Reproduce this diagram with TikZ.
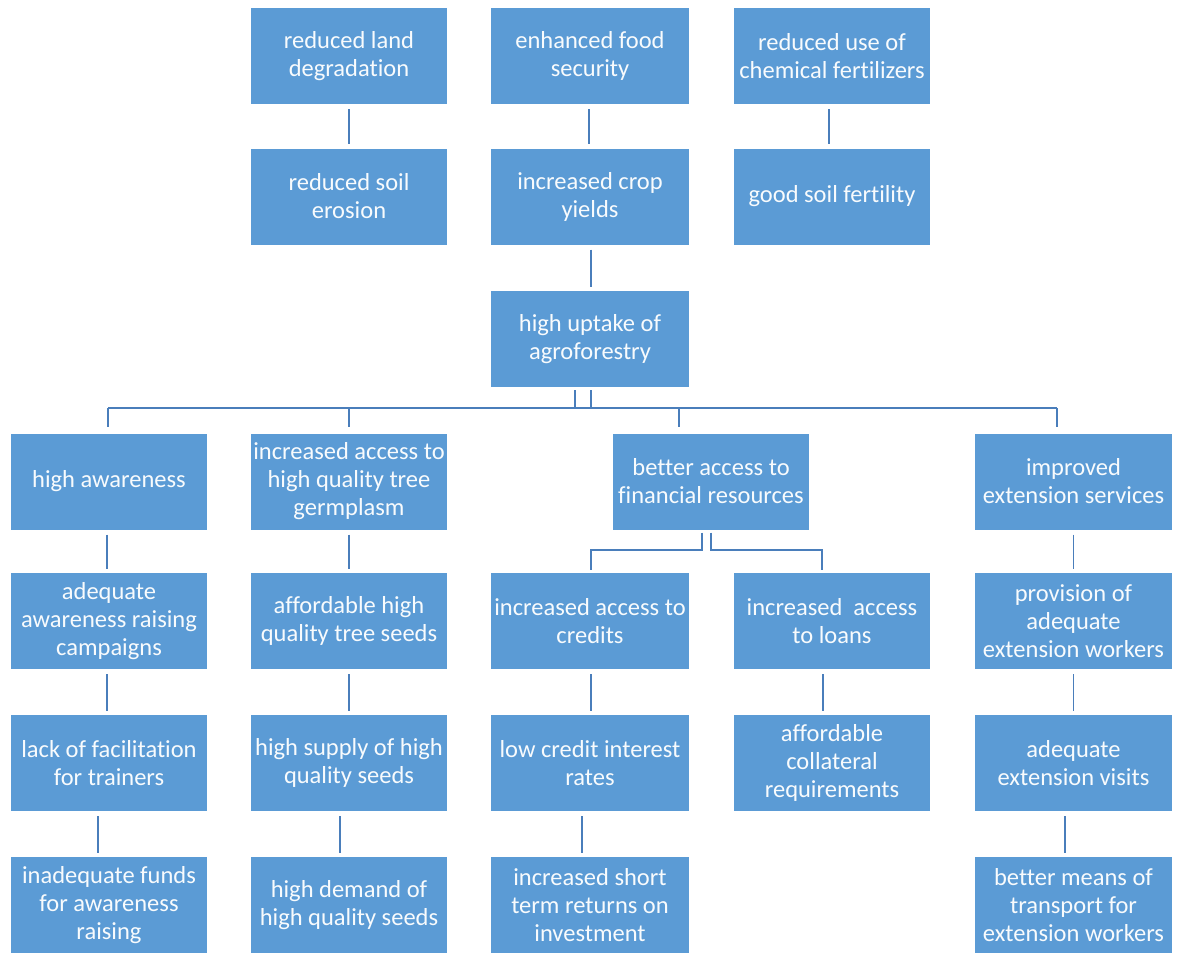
\documentclass[tikz,border=0pt]{standalone}
\usepackage{fontspec}
\setmainfont{Carlito}[Ligatures=NoCommon]
\definecolor{boxblue}{HTML}{5B9BD5}
\definecolor{linkblue}{HTML}{4A7EBB}
\begin{document}
\begin{tikzpicture}[x=1pt,y=-1pt,
  box/.style={rectangle, fill=boxblue, text=white!96!boxblue, minimum width=196pt, minimum height=96pt,
    inner sep=0pt, align=center, font=\fontsize{24.5}{28}\selectfont},
  conn/.style={draw=linkblue, line width=1.8pt},
  gap/.style={shorten <=5pt, shorten >=4pt}]
\useasboundingbox (0,0) rectangle (1177,953);
% row 1
\node[box] (b1) at (349,56) {reduced land\\degradation};
\node[box,minimum width=198pt] (c1) at (590,56) {enhanced food\\security};
\node[box] (d1) at (832,56) {reduced use of\\chemical fertilizers};
% row 2
\node[box] (b2) at (349,196.5) {reduced soil\\erosion};
\node[box,minimum width=198pt] (c2) at (590,196.5) {increased crop\\yields};
\node[box] (d2) at (832,196.5) {good soil fertility};
% row 3
\node[box,minimum width=198pt] (up) at (590,339) {high uptake of\\agroforestry};
% row 4
\node[box] (a4) at (109,481.5) {high awareness};
\node[box] (b4) at (349,481.5) {increased access to\\high quality tree\\germplasm};
\node[box] (f4) at (711,481.5) {better access to\\financial resources};
\node[box,minimum width=197pt] (e4) at (1073.5,481.5) {improved\\extension services};
% row 5
\node[box] (a5) at (109,621) {adequate\\awareness raising\\campaigns};
\node[box] (b5) at (349,621) {affordable high\\quality tree seeds};
\node[box,minimum width=198pt] (c5) at (590,621) {increased access to\\credits};
\node[box] (d5) at (832,621) {increased \ access\\to loans};
\node[box,minimum width=197pt] (e5) at (1073.5,621) {provision of\\adequate\\extension workers};
% row 6
\node[box] (a6) at (109,763) {lack of facilitation\\for trainers};
\node[box] (b6) at (349,763) {high supply of high\\quality seeds};
\node[box,minimum width=198pt] (c6) at (590,763) {low credit interest\\rates};
\node[box] (d6) at (832,763) {affordable\\collateral\\requirements};
\node[box,minimum width=197pt] (e6) at (1073.5,763) {adequate\\extension visits};
% row 7
\node[box] (a7) at (109,905) {inadequate funds\\for awareness\\raising};
\node[box] (b7) at (349,905) {high demand of\\high quality seeds};
\node[box,minimum width=198pt] (c7) at (590,905) {increased short\\term returns on\\investment};
\node[box,minimum width=197pt] (e7) at (1073.5,905) {better means of\\transport for\\extension workers};

% row 1 - row 2
\draw[conn,gap] (b1.south) -- (b2.north);
\draw[conn,gap] ([xshift=-1pt]c1.south) -- ([xshift=-1pt]c2.north);
\draw[conn,gap] ([xshift=-3pt]d1.south) -- ([xshift=-3pt]d2.north);
% row 2 - row 3
\draw[conn,gap] ([xshift=1pt]c2.south) -- ([xshift=1pt]up.north);
% bus under row 3
\coordinate (bus) at (0,408);
\coordinate (busL) at (108,408);
\coordinate (busR) at (1057,408);
\draw[conn] (busL) -- (busR);
\draw[conn,shorten <=3pt] ([xshift=-15pt]up.south) -- ([xshift=-15pt]up.south |- bus);
\draw[conn,shorten <=3pt] ([xshift=1pt]up.south) -- ([xshift=1pt]up.south |- bus);
\draw[conn,shorten >=6pt] (busL) -- (busL |- a4.north);
\draw[conn,shorten >=6pt] (b4.north |- bus) -- (b4.north);
\draw[conn,shorten >=6pt] ([xshift=-32pt]f4.north |- bus) -- ([xshift=-32pt]f4.north);
\draw[conn,shorten >=6pt] (busR) -- (busR |- e4.north);
% row 4 - row 5
\draw[conn,gap] ([xshift=-2pt]a4.south) -- ([xshift=-2pt]a5.north);
\draw[conn,gap] (b4.south) -- (b5.north);
\draw[conn,gap] (e4.south) -- (e5.north);
\coordinate (fbus) at (0,550);
\draw[conn,shorten <=3pt,shorten >=3pt] ([xshift=-9pt]f4.south) |- ([xshift=1pt]c5.north |- fbus) -- ([xshift=1pt]c5.north);
\draw[conn,shorten <=3pt,shorten >=3pt] ([xshift=0pt]f4.south) |- ([xshift=-10pt]d5.north |- fbus) -- ([xshift=-10pt]d5.north);
% row 5 - row 6
\draw[conn,gap] ([xshift=-2pt]a5.south) -- ([xshift=-2pt]a6.north);
\draw[conn,gap] (b5.south) -- (b6.north);
\draw[conn,gap] ([xshift=1pt]c5.south) -- ([xshift=1pt]c6.north);
\draw[conn,gap] ([xshift=-9pt]d5.south) -- ([xshift=-9pt]d6.north);
\draw[conn,gap] (e5.south) -- (e6.north);
% row 6 - row 7
\draw[conn,gap] ([xshift=-11pt]a6.south) -- ([xshift=-11pt]a7.north);
\draw[conn,gap] ([xshift=-9pt]b6.south) -- ([xshift=-9pt]b7.north);
\draw[conn,gap] ([xshift=-8pt]c6.south) -- ([xshift=-8pt]c7.north);
\draw[conn,gap] ([xshift=-8.5pt]e6.south) -- ([xshift=-8.5pt]e7.north);
\end{tikzpicture}
\end{document}
